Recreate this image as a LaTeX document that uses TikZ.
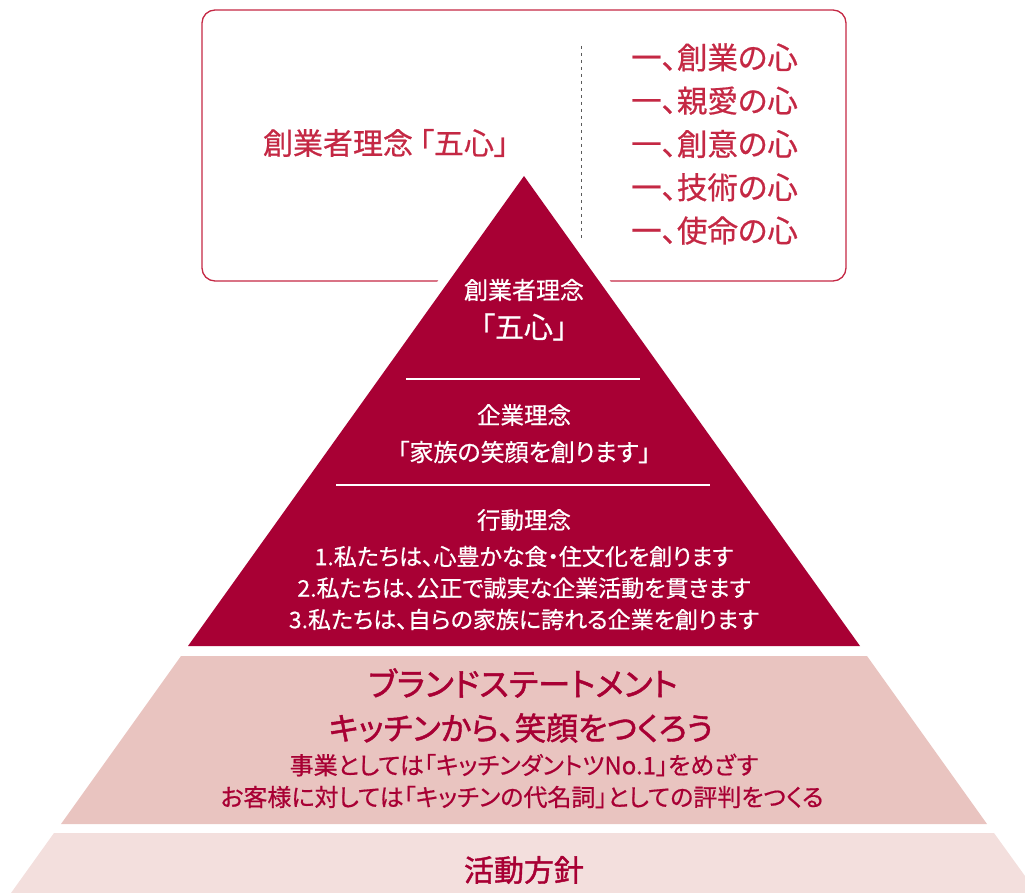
\documentclass[tikz,border=0pt]{standalone}
\usepackage{fontspec}
\setmainfont{Noto Sans CJK JP}[RawFeature=+palt, FakeBold=0.6]
\newfontfamily\headf{Noto Sans CJK JP}[RawFeature=+palt, FakeBold=1.4]
\definecolor{crim}{RGB}{168,0,52}
\definecolor{boxred}{RGB}{196,40,68}
\definecolor{pinkA}{RGB}{233,196,192}
\definecolor{pinkB}{RGB}{243,223,221}
\definecolor{dashgray}{RGB}{90,90,90}
\tikzset{
  fs/.style={font=\fontsize{#1}{#1}\selectfont},
  boxtxt/.style={text=boxred, inner sep=0pt},
  wtxt/.style={text=white, inner sep=0pt, align=center},
  btxt/.style={text=crim, inner sep=0pt, align=center},
  sepline/.style={draw=white, line width=1.5pt}
}
\begin{document}
\begin{tikzpicture}[x=1pt,y=-1pt]
\useasboundingbox (0,0) rectangle (1025,893);
% top box
\draw[boxred, line width=1.3pt, rounded corners=13pt] (202,10) rectangle (846,281);
\coordinate (d1) at (581,46);
\coordinate (d2) at (581,240);
\draw[dashgray, dash pattern=on 3pt off 4pt, line width=1pt] (d1) -- (d2);
\node[boxtxt, fs=30] (title) at (386,143) {創業者理念\hspace{6pt}「五心」};
\node[boxtxt, anchor=west, align=left, font=\fontsize{30.5}{43.3}\selectfont] (list) at (631,144)
  {一、創業の心\\一、親愛の心\\一、創意の心\\一、技術の心\\一、使命の心};
% white margin around triangle
\draw[white, line width=18pt] (524,176) -- (188,646) -- (860,646) -- cycle;
% bands
\fill[pinkB] (54,833) -- (994,833) -- (1025,876) -- (1025,893) -- (11,893) -- cycle;
\fill[pinkA] (181,656) -- (867,656) -- (987,824) -- (61,824) -- cycle;
% triangle
\fill[crim] (524,176) -- (188,646) -- (860,646) -- cycle;
\coordinate (l1a) at (406,379); \coordinate (l1b) at (640,379);
\coordinate (l2a) at (336,485); \coordinate (l2b) at (710,485);
\draw[sepline] (l1a) -- (l1b);
\draw[sepline] (l2a) -- (l2b);
% triangle texts
\node[wtxt, fs=24] (t1) at (524,290) {創業者理念};
\node[wtxt, fs=29] (t2) at (524,327) {「五心」};
\node[wtxt, fs=23.5] (t3) at (524,415) {企業理念};
\node[wtxt, fs=24] (t4) at (524,452) {「家族の笑顔を創ります」};
\node[wtxt, fs=23.5] (t5) at (524,520) {行動理念};
\node[wtxt, font=\fontsize{23}{31.5}\selectfont] (t6) at (524,588)
  {1.私たちは、心豊かな食・住文化を創ります\\2.私たちは、公正で誠実な企業活動を貫きます\\3.私たちは、自らの家族に誇れる企業を創ります};
% band texts
\node[btxt, font=\headf\fontsize{32.5}{32.5}\selectfont] (b1) at (523,683) {ブランドステートメント};
\node[btxt, font=\headf\fontsize{31.7}{31.7}\selectfont] (b2) at (521,728) {キッチンから、笑顔をつくろう};
\node[btxt, fs=24] (b3) at (524,765) {事業としては「キッチンダントツNo.1」をめざす};
\node[btxt, fs=24] (b4) at (522,797) {お客様に対しては「キッチンの代名詞」としての評判をつくる};
\node[btxt, font=\headf\fontsize{30}{30}\selectfont] (b5) at (524,870) {活動方針};
\end{tikzpicture}
\end{document}
